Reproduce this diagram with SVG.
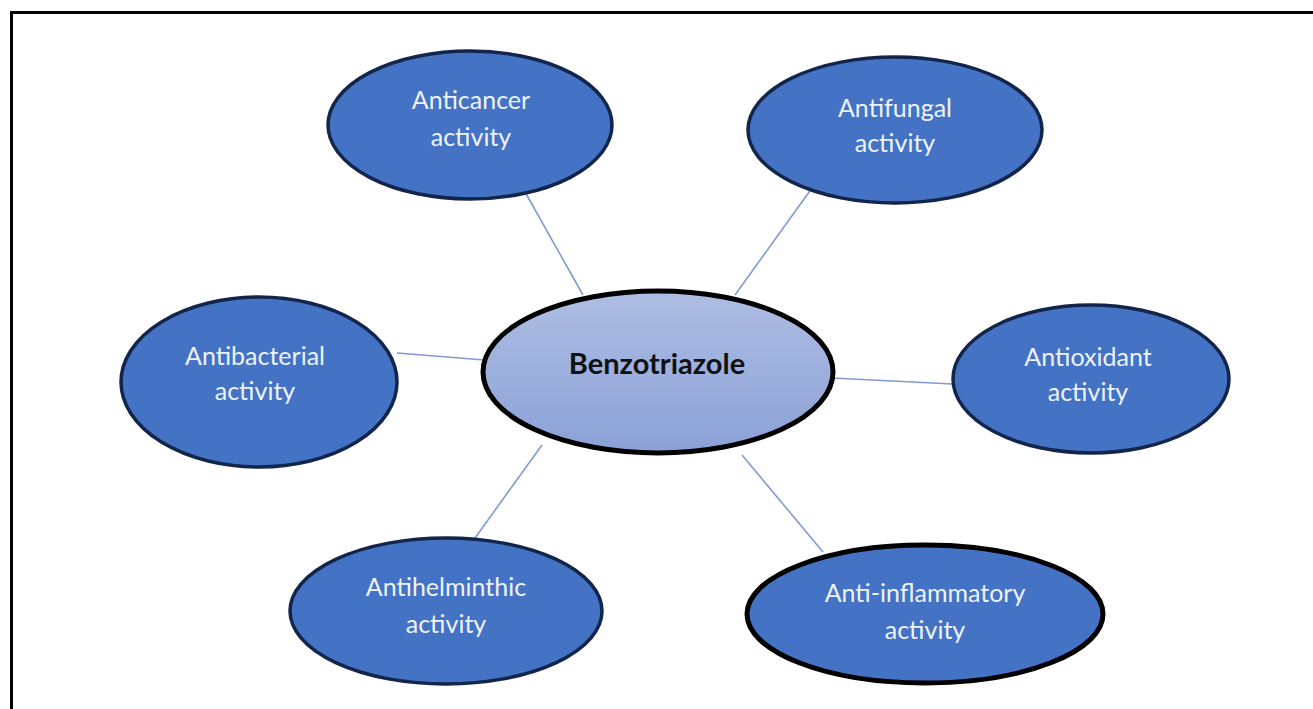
<svg xmlns="http://www.w3.org/2000/svg" width="1313" height="709" viewBox="0 0 1313 709">
<defs>
<linearGradient id="cg" x1="0" y1="0" x2="0" y2="1">
<stop offset="0" stop-color="#aebde3"/>
<stop offset="1" stop-color="#8ba1d7"/>
</linearGradient>
<style>
.n{fill:#4472c4;stroke:#13254a;stroke-width:3.5}
.nb{fill:#4472c4;stroke:#000;stroke-width:5}
.t{font-family:Lato,"Open Sans","Liberation Sans",sans-serif;font-size:25px;fill:#eef2fb;text-anchor:middle}
.c{stroke:#7f9ad4;stroke-width:1.6;fill:none}
</style>
</defs>
<rect width="1313" height="709" fill="#fff"/>
<path d="M11.5,709 V12.5 H1313" fill="none" stroke="#000" stroke-width="3"/>
<g id="connectors">
<line class="c" x1="525" y1="192" x2="583" y2="295"/>
<line class="c" x1="812" y1="188" x2="735" y2="295"/>
<line class="c" x1="397" y1="353" x2="484" y2="360"/>
<line class="c" x1="832" y1="378" x2="953" y2="384"/>
<line class="c" x1="542" y1="445" x2="475" y2="538"/>
<line class="c" x1="742" y1="455" x2="823" y2="552"/>
</g>
<g id="anticancer">
<ellipse class="n" cx="470" cy="125" rx="142" ry="74"/>
<text class="t" x="471" y="109">Anticancer</text>
<text class="t" x="471" y="146">activity</text>
</g>
<g id="antifungal">
<ellipse class="n" cx="895" cy="130" rx="147" ry="73"/>
<text class="t" x="895" y="117">Antifungal</text>
<text class="t" x="895" y="152">activity</text>
</g>
<g id="antibacterial">
<ellipse class="n" cx="259" cy="382" rx="138" ry="85"/>
<text class="t" x="255" y="365">Antibacterial</text>
<text class="t" x="255" y="400">activity</text>
</g>
<g id="benzotriazole">
<ellipse cx="658" cy="372" rx="175" ry="81" fill="url(#cg)" stroke="#000" stroke-width="5"/>
<text x="657" y="374" font-family="Lato,'Open Sans','Liberation Sans',sans-serif" font-size="29" font-weight="bold" fill="#111" text-anchor="middle">Benzotriazole</text>
</g>
<g id="antioxidant">
<ellipse class="n" cx="1091" cy="379" rx="138" ry="74"/>
<text class="t" x="1088" y="366">Antioxidant</text>
<text class="t" x="1088" y="401">activity</text>
</g>
<g id="antihelminthic">
<ellipse class="n" cx="446" cy="611" rx="156" ry="73" stroke="#0a0f1e" stroke-width="3"/>
<text class="t" x="446" y="596">Antihelminthic</text>
<text class="t" x="446" y="633">activity</text>
</g>
<g id="antiinflammatory">
<ellipse class="nb" cx="925" cy="614" rx="178" ry="69"/>
<text class="t" x="925" y="602">Anti-inflammatory</text>
<text class="t" x="925" y="639">activity</text>
</g>
</svg>
